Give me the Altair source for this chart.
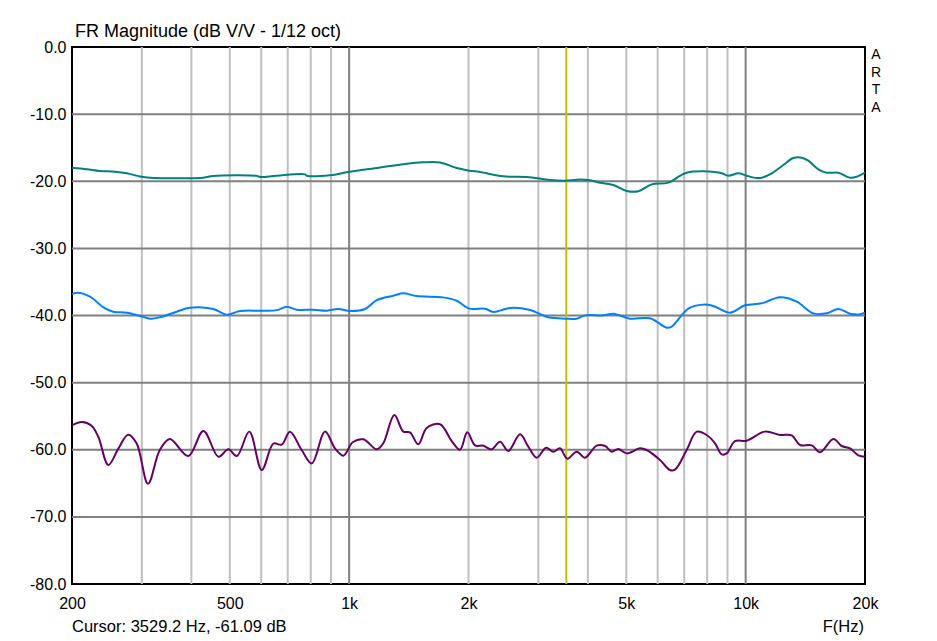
import altair as alt
import pandas as pd

# ---- data ----
freq_teal = [200, 218, 235, 257, 275, 297, 315, 429, 454, 585, 596, 657, 774, 782, 895, 995,
             1174, 1397, 1538, 1695, 1868, 2010, 2138, 2448, 2805, 3211, 3518, 3749, 4010, 4293,
             4637, 5012, 5362, 5794, 6382, 7100, 8618, 9042, 9584, 10060, 10666, 10980, 11636,
             12446, 13190, 13848, 14388, 15248, 16012, 17128, 18334, 19056, 20000]
db_teal = [-17.98, -18.2, -18.47, -18.57, -18.8, -19.3, -19.47, -19.47, -19.2, -19.2, -19.37,
           -19.17, -18.97, -19.17, -19.1, -18.62, -18.03, -17.38, -17.18, -17.2, -18.03, -18.42,
           -18.62, -19.27, -19.37, -19.81, -19.91, -19.76, -19.81, -20.21, -20.56, -21.45, -21.5,
           -20.46, -20.2, -18.72, -18.72, -19.17, -18.82, -19.17, -19.52, -19.47, -18.82, -17.58,
           -16.54, -16.49, -16.94, -18.22, -18.72, -18.72, -19.47, -19.32, -18.72]

freq_blue = [200, 207, 222, 240, 254, 275, 297, 315, 333, 367, 397, 454, 491, 531, 596, 657,
             696, 737, 812, 878, 939, 1005, 1097, 1174, 1292, 1370, 1480, 1728, 1868, 2010, 2202,
             2310, 2546, 2858, 3180, 3518, 3749, 3934, 4376, 4637, 5108, 5740, 6324, 6508, 7168,
             7818, 8288, 9130, 9964, 10980, 12208, 13454, 14814, 16012, 17128, 18334, 19428, 20000]
db_blue = [-36.8, -36.6, -37.2, -38.78, -39.43, -39.58, -40.07, -40.47, -40.27, -39.43, -38.83,
           -39.03, -39.88, -39.33, -39.28, -39.2, -38.68, -39.13, -39.13, -39.28, -39.03, -39.33,
           -39.03, -37.7, -37.05, -36.7, -37.1, -37.3, -37.8, -38.98, -38.98, -39.48, -38.88,
           -39.18, -40.27, -40.47, -40.47, -39.98, -39.98, -39.73, -40.47, -40.42, -41.81, -41.66,
           -38.98, -38.38, -38.58, -39.58, -38.48, -38.19, -37.29, -37.94, -39.68, -39.68, -39.03,
           -39.73, -39.83, -39.58]

freq_purple = [200, 212, 224, 233, 247, 262, 277, 291, 311, 333, 353, 393, 429, 468, 496, 521,
               560, 602, 644, 676, 709, 759, 805, 869, 921, 967, 1021, 1086, 1174, 1219, 1300,
               1370, 1424, 1494, 1569, 1695, 1814, 1904, 1986, 2076, 2180, 2288, 2402, 2520, 2698,
               2830, 2972, 3138, 3274, 3402, 3550, 3749, 3934, 4210, 4420, 4594, 4772, 5012, 5414,
               5628, 6082, 6444, 6634, 7100, 7526, 7976, 8372, 8702, 8958, 9400, 10060, 11190,
               12208, 13066, 13714, 14678, 15402, 16644, 17472, 18334, 19236, 20000]
db_purple = [-56.36, -55.87, -56.42, -58.06, -62.27, -59.79, -57.76, -59.04, -65.05, -60.04,
             -58.4, -60.93, -57.2, -61.03, -59.94, -60.93, -57.3, -63.02, -59.09, -59.24, -57.3,
             -60.04, -62.03, -57.3, -59.79, -60.88, -58.89, -58.45, -59.94, -59.04, -54.82, -57.3,
             -57.4, -59.19, -56.76, -56.21, -58.7, -59.99, -57.4, -59.34, -59.4, -59.94, -58.8,
             -60.19, -57.7, -59.54, -61.18, -59.69, -60.29, -59.79, -61.33, -60.29, -61.18, -59.39,
             -59.44, -60.29, -59.89, -60.54, -59.79, -60.04, -61.53, -63.02, -62.97, -60.04, -57.3,
             -57.8, -59.04, -60.68, -60.54, -58.7, -58.65, -57.3, -57.8, -57.85, -59.29, -59.34,
             -60.39, -58.4, -59.44, -59.79, -60.83, -61.03]

x_ticks = [200, 500, 1000, 2000, 5000, 10000, 20000]
y_ticks = [-80, -70, -60, -50, -40, -30, -20, -10, 0]
grid_minor_x = [300, 400, 500, 600, 700, 800, 900, 2000, 3000, 4000, 5000, 6000, 7000, 8000, 9000]
grid_major_x = [1000, 10000]
grid_y = [-10, -20, -30, -40, -50, -60, -70]
cursor_freq = [3529.2]

title_text = "FR Magnitude (dB V/V - 1/12 oct)"
cursor_text = "Cursor: 3529.2 Hz, -61.09 dB"
xunit_text = "F(Hz)"
brand_text = "A\nR\nT\nA"

FONT = "Liberation Sans"

x_scale = alt.Scale(type="log", domain=[200, 20000], nice=False)
y_scale = alt.Scale(domain=[-80, 0], nice=False, zero=False)

x_axis = alt.Axis(values=x_ticks, title=None, grid=False, ticks=False, domain=False,
                  labelExpr="datum.value >= 1000 ? (datum.value / 1000) + 'k' : '' + datum.value",
                  labelFontSize=16, labelFont=FONT, labelColor="black", labelPadding=11,
                  labelFlush=False, labelOverlap=False)
y_axis = alt.Axis(values=y_ticks, title=None, grid=False, ticks=False, domain=False,
                  labelExpr="replace(format(datum.value, '.1f'), '\u2212', '-')",
                  labelFontSize=16, labelFont=FONT, labelColor="black",
                  labelPadding=6, labelFlush=False, labelOverlap=False)


def X():
    return alt.X("f:Q", scale=x_scale, axis=x_axis, title=None)


def Y():
    return alt.Y("db:Q", scale=y_scale, axis=y_axis, title=None)


minor = alt.Chart(pd.DataFrame({"f": grid_minor_x})).mark_rule(
    color="#c0c0c0", strokeWidth=2).encode(x=X())
major_x = alt.Chart(pd.DataFrame({"f": grid_major_x})).mark_rule(
    color="#808080", strokeWidth=2).encode(x=X())
major_y = alt.Chart(pd.DataFrame({"db": grid_y})).mark_rule(
    color="#808080", strokeWidth=2).encode(y=Y())
cursor = alt.Chart(pd.DataFrame({"f": cursor_freq})).mark_rule(
    color="#c0c000", strokeWidth=2).encode(x=X())


def curve(fr, db, color):
    return alt.Chart(pd.DataFrame({"f": fr, "db": db})).mark_line(
        color=color, strokeWidth=2, interpolate="catmull-rom", clip=True).encode(
        x=X(), y=Y())


teal = curve(freq_teal, db_teal, "#008080")
blue = curve(freq_blue, db_blue, "#0080ff")
purple = curve(freq_purple, db_purple, "#660066")

title = alt.Chart(pd.DataFrame({"t": [title_text]})).mark_text(
    align="left", baseline="alphabetic", fontSize=18, font=FONT, color="black").encode(
    x=alt.value(3), y=alt.value(-10), text="t:N")
cur_lbl = alt.Chart(pd.DataFrame({"t": [cursor_text]})).mark_text(
    align="left", baseline="alphabetic", fontSize=16.5, font=FONT, color="black").encode(
    x=alt.value(0), y=alt.value(585), text="t:N")
unit_lbl = alt.Chart(pd.DataFrame({"t": [xunit_text]})).mark_text(
    align="right", baseline="alphabetic", fontSize=16.5, font=FONT, color="black").encode(
    x=alt.value(792), y=alt.value(585), text="t:N")
brand = alt.Chart(pd.DataFrame({"t": [brand_text]})).mark_text(
    align="center", baseline="alphabetic", fontSize=14, font=FONT, color="black",
    lineBreak="\n", lineHeight=17.5).encode(
    x=alt.value(804), y=alt.value(12), text="t:N")

chart = alt.layer(minor, major_x, major_y, cursor, teal, blue, purple,
                  title, cur_lbl, unit_lbl, brand).properties(
    width=793, height=537,
    autosize=alt.AutoSizeParams(type="none"),
    padding={"left": 64, "top": 39, "right": 60, "bottom": 53},
    background="white",
).configure_view(stroke="black", strokeWidth=2)

chart.save("out.html", embed_options={"renderer": "svg", "actions": False})
